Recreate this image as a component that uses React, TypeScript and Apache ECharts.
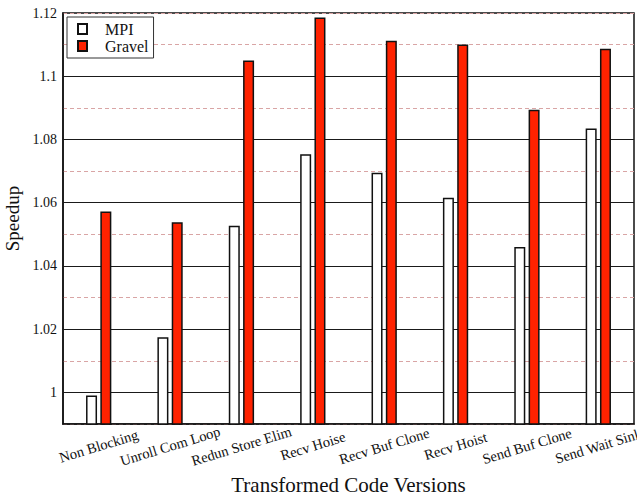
import React, { useEffect, useRef } from "react";
import * as echarts from "echarts";

const categories = [
  "Non Blocking",
  "Unroll Com Loop",
  "Redun Store Elim",
  "Recv Hoise",
  "Recv Buf Clone",
  "Recv Hoist",
  "Send Buf Clone",
  "Send Wait Sink",
];
const mpiValues = [0.999, 1.0174, 1.0527, 1.0753, 1.0695, 1.0616, 1.046, 1.0835];
const gravelValues = [1.0572, 1.0538, 1.105, 1.1186, 1.1112, 1.110, 1.0894, 1.1087];
const majorLines = [1.0, 1.02, 1.04, 1.06, 1.08, 1.1];

const FONT = "'Liberation Serif', 'DejaVu Serif', serif";

export default function App() {
  const ref = useRef<HTMLDivElement>(null);
  useEffect(() => {
    if (!ref.current) return;
    const chart = echarts.init(ref.current, null, { renderer: "svg" });
    chart.setOption({
      animation: false,
      backgroundColor: "#fff",
      grid: {
        left: 63,
        right: 3,
        top: 13,
        bottom: 71,
        show: true,
        borderColor: "#111",
        borderWidth: 1.5,
        backgroundColor: "transparent",
        containLabel: false,
        outerBoundsMode: "none",
      },
      legend: {
        data: ["MPI", "Gravel"],
        orient: "vertical",
        left: 67,
        top: 17,
        padding: [4, 5, 4, 10],
        itemWidth: 9,
        itemHeight: 10,
        itemGap: 1,
        icon: "rect",
        backgroundColor: "#fff",
        borderColor: "#333",
        borderWidth: 1,
        borderRadius: 0,
        textStyle: {
          fontFamily: FONT,
          fontSize: 16,
          color: "#111",
          lineHeight: 16,
          padding: [0, 0, 0, 13],
        },
      },
      xAxis: {
        type: "category",
        data: categories,
        boundaryGap: true,
        axisLine: { show: true, lineStyle: { color: "#111", width: 1.5 } },
        axisTick: { show: false },
        axisLabel: {
          interval: 0,
          rotate: 17,
          align: "center",
          verticalAlign: "middle",
          margin: 22,
          fontFamily: FONT,
          fontSize: 14.5,
          color: "#111",
        },
        splitLine: { show: false },
        name: "Transformed Code Versions",
        nameLocation: "middle",
        nameGap: 48,
        nameTextStyle: { fontFamily: FONT, fontSize: 21, lineHeight: 21, color: "#111" },
      },
      yAxis: {
        type: "value",
        min: 0.99,
        max: 1.12,
        interval: 0.01,
        axisLine: { show: true, lineStyle: { color: "#111", width: 1.5 } },
        axisTick: { show: false },
        axisLabel: {
          margin: 6,
          fontFamily: FONT,
          fontSize: 14,
          color: "#111",
          formatter: (v: number) => {
            const c = Math.round(v * 100);
            if (c < 100 || c % 2 !== 0) return "";
            return String(c / 100);
          },
        },
        splitLine: {
          show: true,
          lineStyle: { color: "#d9a5a5", type: [4, 3], width: 1 },
        },
        name: "Speedup",
        nameLocation: "middle",
        nameRotate: 90,
        nameGap: 38,
        nameTextStyle: { fontFamily: FONT, fontSize: 19, color: "#111" },
      },
      series: [
        {
          name: "MPI",
          type: "bar",
          data: mpiValues,
          barWidth: 11,
          barGap: "30%",
          z: 3,
          itemStyle: { color: "#fff", borderColor: "#111", borderWidth: 1.5 },
          markLine: {
            silent: true,
            z: 1,
            symbol: "none",
            label: { show: false },
            lineStyle: { color: "#1a1a1a", type: "solid", width: 1.2 },
            emphasis: { disabled: true },
            data: majorLines.map((v) => ({ yAxis: v })),
          },
        },
        {
          name: "Gravel",
          type: "bar",
          data: gravelValues,
          barWidth: 11,
          z: 3,
          itemStyle: { color: "#ff2200", borderColor: "#111", borderWidth: 1.5 },
        },
      ],
    });
    return () => chart.dispose();
  }, []);
  return <div ref={ref} style={{ width: 637, height: 495, position: "fixed", left: 0, top: 0 }} />;
}
